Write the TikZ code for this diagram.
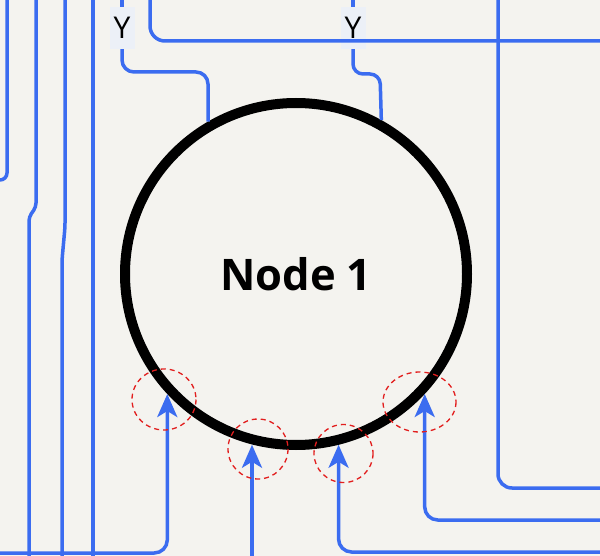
\documentclass[tikz,border=0pt]{standalone}
\usepackage{fontspec}
\setmainfont{Open Sans}
\usetikzlibrary{arrows.meta}
\definecolor{paper}{RGB}{244,243,239}
\definecolor{wireblue}{RGB}{59,108,240}
\definecolor{tagbg}{RGB}{236,240,247}
\definecolor{hired}{RGB}{226,30,30}

\begin{document}
\begin{tikzpicture}[x=1pt,y=-1pt,
wire/.style={draw=wireblue,line width=3.5pt},
feed/.style={wire,-{Stealth[length=23pt,width=20pt,inset=6pt]}},
ring/.style={draw=hired,line width=1.3pt,dash pattern=on 5pt off 4pt},
tag/.style={fill=tagbg,inner sep=0pt,minimum width=25pt,minimum height=42pt,font=\fontsize{30}{30}\selectfont}]
\fill[paper] (0,0) rectangle (600,556);
\useasboundingbox (0,0) rectangle (600,556);
\node[circle,draw,line width=10pt,inner sep=0pt,minimum size=342pt,font=\bfseries\fontsize{43.5}{43.5}\selectfont] (node1) at (296,274) {Node 1};
\node[tag] (ya) at (122,28) {Y};
\node[tag] (yb) at (353,28) {Y};
\coordinate (ta) at (122,0);
\coordinate (tb) at (353,0);
\coordinate (tc) at (150,0);
\coordinate (td) at (498,0);
\coordinate (rc) at (600,41);
\coordinate (rd) at (600,488);
\coordinate (re) at (600,520);
\coordinate (rf) at (600,552);
\coordinate (bl) at (0,553);
\coordinate (bb) at (252,556);
\draw[wire] (ta) -- (ya.north);
\draw[wire] (tb) -- (yb.north);
\draw[wire,rounded corners=12pt] (ya.south) |- (208,72) -- (node1.120);
\draw[wire,rounded corners=10pt] (yb.south) |- (380,74) -- (node1.61.5);
\draw[wire,rounded corners=15pt] (tc) |- (rc);
\draw[wire,rounded corners=14pt] (td) |- (rd);
\draw[wire,rounded corners=7pt] (7,0) |- (-2,180);
\draw[wire,rounded corners=4pt] (36,0) -- (36,207) -- (29,217) -- (29,556);
\draw[wire,rounded corners=4pt] (65,0) -- (65,227) -- (62,260) -- (62,556);
\draw[wire] (93,0) -- (93,556);
\draw[feed,rounded corners=13pt] (bl) -| (node1.-137.1);
\draw[feed] (bb) -- (bb |- node1.-104.5);
\draw[feed,rounded corners=13pt] (rf) -| (node1.-76.2);
\draw[feed,rounded corners=13pt] (re) -| (node1.-43.8);
\draw[ring] (164,399.5) ellipse [x radius=32, y radius=30.5];
\draw[ring] (258,449) ellipse [x radius=30, y radius=30];
\draw[ring] (343.5,453.5) ellipse [x radius=29.5, y radius=29];
\draw[ring] (419.5,402) ellipse [x radius=36.5, y radius=30];
\end{tikzpicture}
\end{document}
